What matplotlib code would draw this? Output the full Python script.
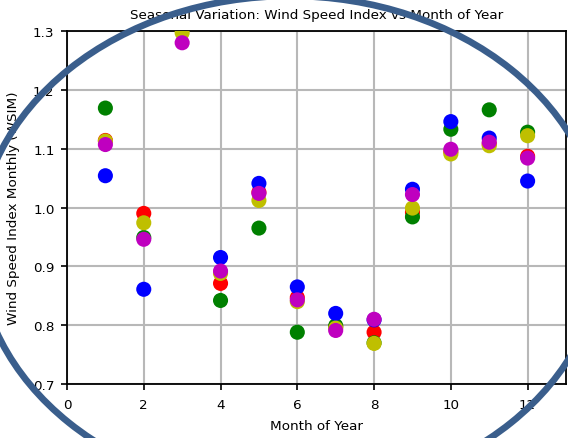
import numpy as np
import matplotlib
matplotlib.use("Agg")
import matplotlib.pyplot as plt
from matplotlib.patches import Ellipse

months = [1, 2, 3, 4, 5, 6, 7, 8, 9, 10, 11, 12]
series_colors = ['r', 'g', 'b', 'y', 'm']
red_vals     = [1.114, 0.990, 1.330, 0.871, 1.026, 0.847, 0.797, 0.788, 0.992, 1.095, 1.108, 1.087]
green_vals   = [1.169, 0.949, 1.360, 0.842, 0.965, 0.788, 0.799, 0.770, 0.984, 1.133, 1.166, 1.128]
blue_vals    = [1.054, 0.861, 1.390, 0.915, 1.041, 0.865, 0.820, 0.809, 1.031, 1.146, 1.118, 1.045]
yellow_vals  = [1.113, 0.974, 1.297, 0.888, 1.012, 0.840, 0.795, 0.769, 0.999, 1.091, 1.105, 1.122]
magenta_vals = [1.107, 0.946, 1.280, 0.892, 1.024, 0.843, 0.791, 0.810, 1.022, 1.099, 1.111, 1.084]
all_series = [red_vals, green_vals, blue_vals, yellow_vals, magenta_vals]

x_ticks = [0, 2, 4, 6, 8, 10, 12]
y_ticks = [0.7, 0.8, 0.9, 1.0, 1.1, 1.2, 1.3]

fig = plt.figure(figsize=(5.68, 4.39), dpi=100)
ax = fig.add_axes([67/568, 1-385/439, (566-67)/568, (385-32)/439])

for vals, c in zip(all_series, series_colors):
    ax.scatter(months, vals, s=118, c=c, edgecolors='none', zorder=3)

ax.set_xlim(0, 13)
ax.set_ylim(0.7, 1.3)
ax.set_xticks(x_ticks)
ax.set_yticks(y_ticks)
ax.set_yticklabels([f"{v:.1f}" for v in y_ticks])
ax.grid(True, color='#b8b8b8', linewidth=1.5, zorder=0)
ax.set_axisbelow(True)
ax.tick_params(labelsize=9.7, length=4, width=1.2, direction='out', pad=5)
ax.tick_params(axis='x', pad=6)
for sp in ax.spines.values():
    sp.set_linewidth(1.3)
    sp.set_color('black')

ax.set_title("Seasonal Variation: Wind Speed Index vs Month of Year", fontsize=9.7, pad=9)
ax.set_xlabel("Month of Year", fontsize=9.7, labelpad=6)
ax.set_ylabel("Wind Speed Index Monthly (WSIM)", fontsize=9.7, labelpad=9)

ell = Ellipse((290/568, 1-247/439), 625/568, 500/439, transform=fig.transFigure,
              fill=False, edgecolor='#3a5e8c', linewidth=4.8, zorder=10, clip_on=False)
fig.add_artist(ell)

fig.savefig("out.png", dpi=100)
